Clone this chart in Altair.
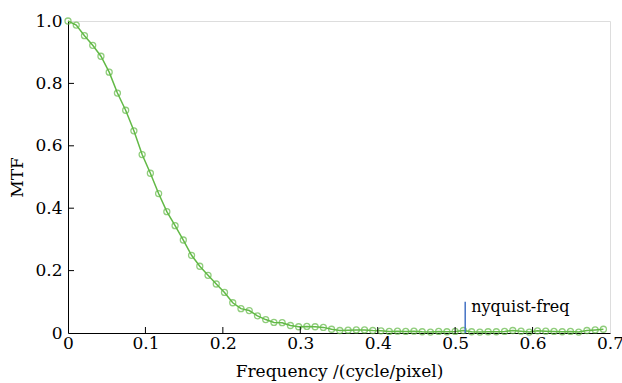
import altair as alt
import pandas as pd

freq_step = 1 / 94
mtf = [1.000, 0.987, 0.953, 0.922, 0.887, 0.836, 0.769, 0.714, 0.648, 0.572,
       0.512, 0.447, 0.389, 0.344, 0.298, 0.249, 0.214, 0.185, 0.157, 0.130,
       0.097, 0.078, 0.072, 0.055, 0.043, 0.034, 0.033, 0.024, 0.020, 0.021,
       0.020, 0.018, 0.012, 0.008, 0.009, 0.010, 0.010, 0.008, 0.007, 0.005,
       0.006, 0.005, 0.006, 0.004, 0.003, 0.005, 0.004, 0.005, 0.008, 0.004,
       0.003, 0.004, 0.004, 0.005, 0.008, 0.006, 0.003, 0.007, 0.006, 0.005,
       0.004, 0.005, 0.003, 0.008, 0.010, 0.012]
freq = [k * freq_step for k in range(len(mtf))]

x_ticks = [0, 0.1, 0.2, 0.3, 0.4, 0.5, 0.6, 0.7]
y_ticks = [0, 0.2, 0.4, 0.6, 0.8, 1.0]
nyquist = 0.513
nyquist_top = 0.1
nyquist_label = "nyquist-freq"

W, H = 542, 312
FONT = "DejaVu Serif"
GREEN = "#62b946"

df = pd.DataFrame({"f": freq, "mtf": mtf})
xs = alt.Scale(domain=[0, 0.7], nice=False, zero=False)
ys = alt.Scale(domain=[0, 1.0], nice=False)

lab = "datum.value == 0 ? '0' : format(datum.value, '.1f')"

base = alt.Chart(df)
line = base.mark_line(color=GREEN, strokeWidth=1.5).encode(
    x=alt.X("f:Q", scale=xs, title="Frequency /(cycle/pixel)",
            axis=alt.Axis(values=x_ticks, labelExpr=lab, ticks=False, grid=False,
                          labelFont=FONT, labelFontSize=17, labelColor="black",
                          titleFont=FONT, titleFontSize=17, titleFontWeight="normal",
                          titleColor="black", labelPadding=2, titlePadding=12,
                          domainColor="black", labelFlush=False)),
    y=alt.Y("mtf:Q", scale=ys, title="MTF",
            axis=alt.Axis(values=y_ticks, labelExpr=lab, ticks=False, grid=False,
                          labelFont=FONT, labelFontSize=17, labelColor="black",
                          titleFont=FONT, titleFontSize=17, titleFontWeight="normal",
                          titleColor="black", labelPadding=6, titlePadding=8,
                          domainColor="black", labelFlush=False)),
)
pts = base.mark_point(color=GREEN, filled=False, size=36, strokeWidth=1.3).encode(
    x=alt.X("f:Q", scale=xs), y=alt.Y("mtf:Q", scale=ys))

xt = alt.Chart(pd.DataFrame({"v": x_ticks[1:-1]})).mark_rule(color="black").encode(
    x=alt.X("v:Q", scale=xs), y=alt.value(H), y2=alt.value(H - 6))
yt = alt.Chart(pd.DataFrame({"v": y_ticks[1:-1]})).mark_rule(color="black").encode(
    y=alt.Y("v:Q", scale=ys), x=alt.value(0), x2=alt.value(6))

nq = pd.DataFrame({"x": [nyquist], "y0": [0], "y1": [nyquist_top], "t": [nyquist_label]})
nrule = alt.Chart(nq).mark_rule(color="#4472c4", strokeWidth=1.5).encode(
    x=alt.X("x:Q", scale=xs), y=alt.Y("y0:Q", scale=ys), y2="y1:Q")
ntext = alt.Chart(nq).mark_text(align="left", baseline="middle", dx=6, dy=5,
                                font=FONT, fontSize=16, color="black").encode(
    x=alt.X("x:Q", scale=xs), y=alt.Y("y1:Q", scale=ys), text="t:N")

chart = alt.layer(line, pts, xt, yt, nrule, ntext).properties(
    width=W, height=H,
    autosize=alt.AutoSizeParams(type="none"),
    padding={"left": 68, "top": 21, "right": 12, "bottom": 50},
).configure_view(stroke="black", strokeWidth=1.2).configure(background="white")

chart.save("out.html", embed_options={"renderer": "svg", "actions": False})
